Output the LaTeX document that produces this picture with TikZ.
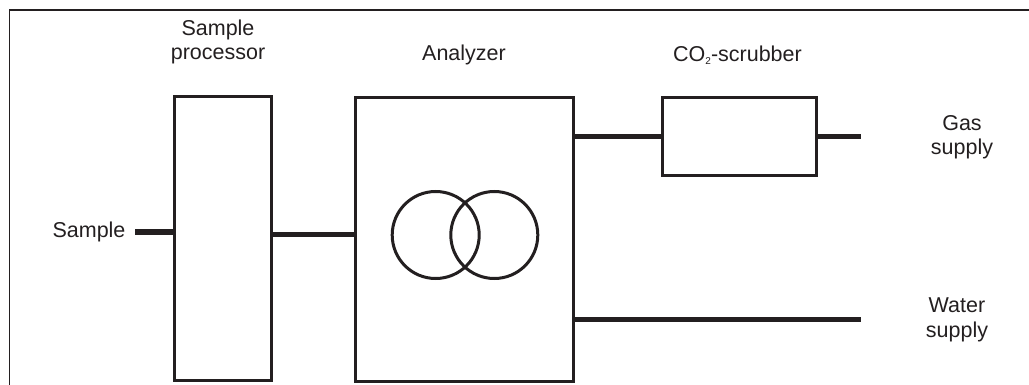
\documentclass[tikz,border=0pt]{standalone}
\usepackage{fontspec}
\setmainfont{Liberation Sans}
\definecolor{ink}{HTML}{231F20}
\begin{document}
\begin{tikzpicture}[x=1pt,y=-1pt,
  every node/.style={text=ink},
  lbl/.style={font=\fontsize{21.5}{24.5}\selectfont, align=center, inner sep=0pt},
  unit/.style={draw=ink, line width=3pt, inner sep=0pt, minimum width=#1},
  ring/.style={draw=ink, circle, line width=3pt, minimum size=87pt, inner sep=0pt},
  pipe/.style={draw=ink, line width=5pt}]
\useasboundingbox (0,0) rectangle (1029,385);
\draw[ink, line width=1.5pt] (9.5,386) -- (9.5,10) -- (1030,10);
% units
\node[unit=97pt, minimum height=284pt] (proc) at (222.5,238.5) {};
\node[unit=218pt, minimum height=284pt] (ana) at (464.5,239.5) {};
\node[unit=154pt, minimum height=78pt] (scr) at (739.5,136.5) {};
\node[ring] (c1) at (435.7,235) {};
\node[ring] (c2) at (494.3,235) {};
% labels
\node[lbl] (lproc) at (218,42) {Sample\\processor};
\node[lbl] (lana) at (464,55) {Analyzer};
\node[lbl] (lscr) at (737.5,55) {CO\raisebox{-0.3ex}{\fontsize{10}{10}\selectfont 2}-scrubber};
\node[lbl] (lsamp) at (89,232) {Sample};
\node[lbl] (lgas) at (962,137) {Gas\\supply};
\node[lbl] (lwat) at (957,320) {Water\\supply};
% connectors
\coordinate (sampend) at (135,232);
\coordinate (mid) at (300,234.5);
\coordinate (gasend) at (861,136.5);
\coordinate (watend) at (861,319);
\draw[pipe] (sampend) -- (sampend -| proc.west);
\draw[pipe] (proc.east |- mid) -- (ana.west |- mid);
\draw[pipe] (ana.east |- scr.west) -- (scr.west);
\draw[pipe] (scr.east) -- (gasend);
\draw[pipe] (ana.east |- watend) -- (watend);
\end{tikzpicture}
\end{document}
